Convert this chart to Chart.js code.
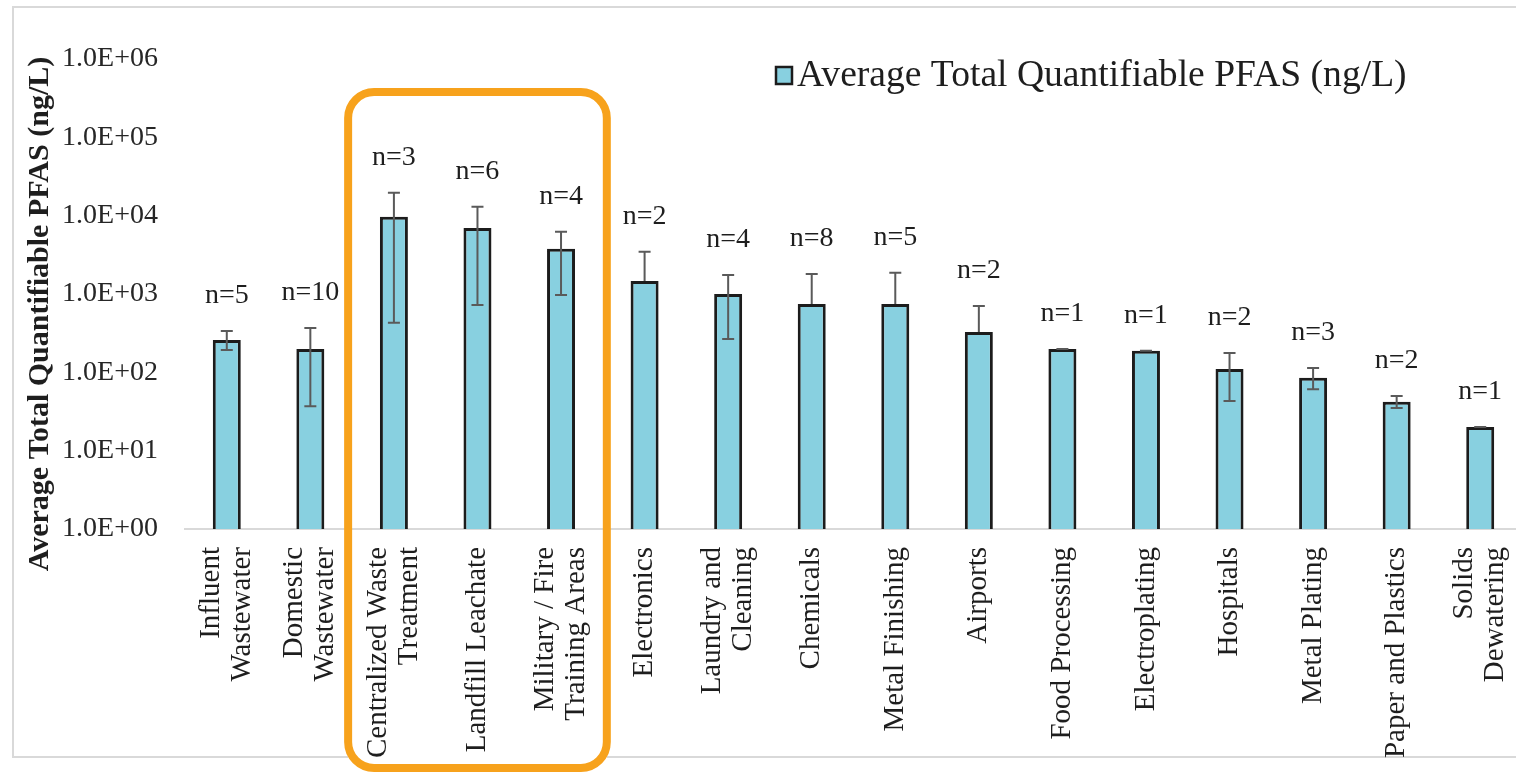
<!DOCTYPE html>
<html>
<head>
<meta charset="utf-8">
<title>Average Total Quantifiable PFAS</title>
<script src="https://cdn.jsdelivr.net/npm/chart.js@4.4.1/dist/chart.umd.min.js"></script>
<style>
  html, body { margin: 0; padding: 0; background: #fff; overflow: hidden; }
  #wrap { position: relative; width: 1530px; height: 774px; }
</style>
</head>
<body>
<div id="wrap"><canvas id="pfasChart" width="1530" height="774"></canvas></div>
<script>
const categories = [
    ['Influent', 'Wastewater'],
    ['Domestic', 'Wastewater'],
    ['Centralized Waste', 'Treatment'],
    ['Landfill Leachate'],
    ['Military / Fire', 'Training Areas'],
    ['Electronics'],
    ['Laundry and', 'Cleaning'],
    ['Chemicals'],
    ['Metal Finishing'],
    ['Airports'],
    ['Food Processing'],
    ['Electroplating'],
    ['Hospitals'],
    ['Metal Plating'],
    ['Paper and Plastics'],
    ['Solids', 'Dewatering']
];
const avgPfas      = [259, 199, 9660, 6980, 3770, 1470, 1000, 748, 748, 328, 199, 188, 110, 85, 42, 20];
const errHigh      = [338, 369, 19550, 12950, 6210, 3450, 1754, 1806, 1862, 705, 199, 188, 177, 114, 50, 20];
const errLow       = [193, 37, 428, 726, 974, null, 267, null, null, null, 199, 188, 43, 61, 35, 20];
const sampleCounts = [5, 10, 3, 6, 4, 2, 4, 8, 5, 2, 1, 1, 2, 3, 2, 1];
const yTickValues  = [1, 10, 100, 1000, 10000, 100000, 1000000];
const yTickLabels  = ['1.0E+00', '1.0E+01', '1.0E+02', '1.0E+03', '1.0E+04', '1.0E+05', '1.0E+06'];
const highlighted  = [2, 3, 4];

const seriesLabel = 'Average Total Quantifiable PFAS (ng/L)';
const SERIF = '"Liberation Serif", "Times New Roman", serif';
const BAR_FILL = '#88D0E0';
const BAR_EDGE = '#1c1c1c';
const TEXT = '#1e1e1e';

// frame, error bars, n= labels, category labels, axis title, legend and the orange highlight
const extras = {
    id: 'extras',
    beforeDraw(chart) {
        const ctx = chart.ctx;
        const x = chart.scales.x;
        const boxL = x.getPixelForValue(highlighted[0] - 0.5) - 4;
        const boxR = x.getPixelForValue(highlighted[highlighted.length - 1] + 0.5) + 4;
        ctx.save();
        ctx.strokeStyle = '#d9d9d9';
        ctx.lineWidth = 2;
        ctx.beginPath();
        ctx.moveTo(chart.width, 7);
        ctx.lineTo(13, 7);
        ctx.lineTo(13, 757);
        ctx.lineTo(boxL, 757);
        ctx.moveTo(boxR, 757);
        ctx.lineTo(chart.width, 757);
        ctx.stroke();
        ctx.restore();
    },
    afterDatasetsDraw(chart) {
        const ctx = chart.ctx;
        const y = chart.scales.y;
        const bars = chart.getDatasetMeta(0).data;
        ctx.save();
        ctx.strokeStyle = '#5a5a5a';
        ctx.lineWidth = 2;
        bars.forEach((bar, i) => {
            const top = y.getPixelForValue(errHigh[i]);
            const low = errLow[i] === null ? y.getPixelForValue(avgPfas[i]) : y.getPixelForValue(errLow[i]);
            ctx.beginPath();
            ctx.moveTo(bar.x, top);
            ctx.lineTo(bar.x, low);
            ctx.moveTo(bar.x - 6, top);
            ctx.lineTo(bar.x + 6, top);
            if (errLow[i] !== null) {
                ctx.moveTo(bar.x - 6, low);
                ctx.lineTo(bar.x + 6, low);
            }
            ctx.stroke();
        });
        ctx.fillStyle = TEXT;
        ctx.font = '28px ' + SERIF;
        ctx.textAlign = 'center';
        ctx.textBaseline = 'middle';
        bars.forEach((bar, i) => {
            const peak = Math.max(avgPfas[i], errHigh[i]);
            ctx.fillText('n=' + sampleCounts[i], bar.x, y.getPixelForValue(peak) - 35);
        });
        ctx.restore();
    },
    afterDraw(chart) {
        const ctx = chart.ctx;
        const x = chart.scales.x;
        const area = chart.chartArea;

        // rotated category labels, lines centred on the tick
        ctx.save();
        ctx.fillStyle = TEXT;
        ctx.font = '29px ' + SERIF;
        ctx.textAlign = 'right';
        ctx.textBaseline = 'middle';
        const lh = 31;
        categories.forEach((lines, i) => {
            const px = x.getPixelForValue(i);
            lines.forEach((line, j) => {
                const off = (j - (lines.length - 1) / 2) * lh;
                ctx.save();
                ctx.translate(px + off, area.bottom + 18);
                ctx.rotate(-Math.PI / 2);
                ctx.fillText(line, 0, 0);
                ctx.restore();
            });
        });
        ctx.restore();

        // y axis title
        ctx.save();
        ctx.fillStyle = TEXT;
        ctx.font = 'bold 30px ' + SERIF;
        ctx.textAlign = 'center';
        ctx.textBaseline = 'middle';
        ctx.translate(40, 314);
        ctx.rotate(-Math.PI / 2);
        ctx.fillText(seriesLabel, 0, 0);
        ctx.restore();

        // legend
        ctx.save();
        ctx.fillStyle = BAR_FILL;
        ctx.fillRect(776, 67, 16, 17);
        ctx.strokeStyle = BAR_EDGE;
        ctx.lineWidth = 2.5;
        ctx.strokeRect(776, 67, 16, 17);
        ctx.fillStyle = TEXT;
        ctx.font = '37.6px ' + SERIF;
        ctx.textAlign = 'left';
        ctx.textBaseline = 'middle';
        ctx.fillText(chart.data.datasets[0].label, 797, 76);
        ctx.restore();

        // orange highlight around the three top sources
        const boxL = x.getPixelForValue(highlighted[0] - 0.5) - 4;
        const boxR = x.getPixelForValue(highlighted[highlighted.length - 1] + 0.5) + 4;
        ctx.save();
        ctx.strokeStyle = '#F7A21C';
        ctx.lineWidth = 8;
        ctx.beginPath();
        ctx.roundRect(boxL, 92, boxR - boxL, 768 - 92, 26);
        ctx.stroke();
        ctx.restore();
    }
};

const ctx = document.getElementById('pfasChart').getContext('2d');
new Chart(ctx, {
    type: 'bar',
    data: {
        labels: categories.map(c => c.join(' ')),
        datasets: [{
            label: seriesLabel,
            data: avgPfas,
            backgroundColor: BAR_FILL,
            borderColor: BAR_EDGE,
            borderWidth: 3,
            categoryPercentage: 1,
            barPercentage: 0.335
        }]
    },
    options: {
        responsive: false,
        animation: false,
        layout: { padding: { top: 59, right: 8, bottom: 0, left: 0 } },
        plugins: {
            legend: { display: false },
            tooltip: { enabled: false }
        },
        scales: {
            x: {
                grid: { display: false },
                border: { display: true, color: '#d9d9d9', width: 2 },
                ticks: { display: false },
                afterFit: s => { s.height = 774 - 529; }
            },
            y: {
                type: 'logarithmic',
                min: 1,
                max: 1000000,
                grid: { display: false },
                border: { display: false },
                afterBuildTicks: s => { s.ticks = yTickValues.map(v => ({ value: v })); },
                afterFit: s => { s.width = 185; },
                ticks: {
                    padding: 19,
                    color: '#262626',
                    font: { family: SERIF, size: 28 },
                    callback: (v, i) => yTickLabels[i]
                }
            }
        }
    },
    plugins: [extras]
});
</script>
</body>
</html>
